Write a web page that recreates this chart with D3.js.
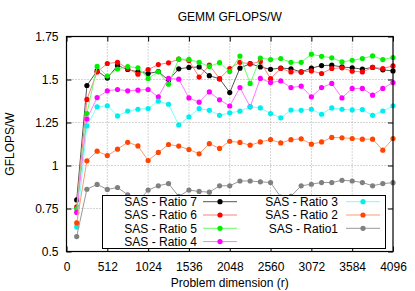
<!DOCTYPE html>
<html>
<head>
<meta charset="utf-8">
<script src="https://cdn.jsdelivr.net/npm/d3@7"></script>
<style>
  body { margin: 0; background: #fff; }
  text { font-family: "Liberation Sans", Arial, sans-serif; font-size: 12px; fill: #000; }
</style>
</head>
<body>
<div id="chart"></div>
<script>
// problem sizes (r)
const sizes = [128, 256, 384, 512, 640, 768, 896, 1024, 1152, 1280, 1408, 1536, 1664, 1792, 1920, 2048,
  2176, 2304, 2432, 2560, 2688, 2816, 2944, 3072, 3200, 3328, 3456, 3584, 3712, 3840, 3968, 4096];

const ratio7 = [0.80, 1.465, 1.55, 1.508, 1.581, 1.558, 1.544, 1.535, 1.546, 1.496, 1.562, 1.570, 1.573, 1.522, 1.504, 1.424,
  1.566, 1.592, 1.573, 1.559, 1.567, 1.562, 1.544, 1.566, 1.581, 1.583, 1.573, 1.568, 1.560, 1.570, 1.556, 1.550];
const ratio6 = [0.76, 1.384, 1.544, 1.593, 1.60, 1.564, 1.531, 1.558, 1.587, 1.597, 1.618, 1.61, 1.514, 1.583, 1.505, 1.564,
  1.60, 1.591, 1.604, 1.505, 1.564, 1.544, 1.544, 1.55, 1.535, 1.564, 1.568, 1.548, 1.544, 1.57, 1.564, 1.579];
const ratio5 = [0.748, 1.302, 1.576, 1.52, 1.561, 1.575, 1.568, 1.506, 1.545, 1.473, 1.619, 1.617, 1.60, 1.575, 1.598, 1.546,
  1.636, 1.477, 1.625, 1.616, 1.622, 1.60, 1.60, 1.647, 1.635, 1.626, 1.602, 1.612, 1.622, 1.637, 1.616, 1.628];
const ratio4 = [0.727, 1.27, 1.395, 1.434, 1.442, 1.434, 1.438, 1.442, 1.399, 1.506, 1.502, 1.393, 1.368, 1.428, 1.382, 1.346,
  1.453, 1.341, 1.506, 1.482, 1.492, 1.453, 1.461, 1.399, 1.453, 1.477, 1.393, 1.448, 1.448, 1.409, 1.448, 1.482];
const ratio3 = [0.642, 1.23, 1.341, 1.347, 1.288, 1.317, 1.327, 1.331, 1.374, 1.356, 1.236, 1.283, 1.331, 1.321, 1.292, 1.306,
  1.316, 1.341, 1.335, 1.302, 1.277, 1.322, 1.321, 1.327, 1.298, 1.335, 1.327, 1.323, 1.325, 1.292, 1.317, 1.347];
const ratio2 = [0.666, 1.027, 1.083, 1.058, 1.095, 1.135, 1.114, 1.029, 1.076, 1.122, 1.113, 1.093, 1.068, 1.127, 1.099, 1.141,
  1.134, 1.118, 1.137, 1.151, 1.131, 1.150, 1.155, 1.124, 1.137, 1.163, 1.161, 1.157, 1.153, 1.153, 1.089, 1.157];
const ratio1 = [0.587, 0.862, 0.89, 0.861, 0.872, 0.83, 0.79, 0.857, 0.882, 0.895, 0.82, 0.857, 0.849, 0.845, 0.882, 0.882,
  0.91, 0.91, 0.905, 0.901, 0.816, 0.821, 0.882, 0.891, 0.901, 0.901, 0.914, 0.91, 0.901, 0.882, 0.895, 0.90];

const labels = ['SAS - Ratio 7', 'SAS - Ratio 6', 'SAS - Ratio 5', 'SAS - Ratio 4', 'SAS - Ratio 3', 'SAS - Ratio 2', 'SAS - Ratio1'];
const xTicks = [0, 512, 1024, 1536, 2048, 2560, 3072, 3584, 4096];
const yTicks = [0.5, 0.75, 1, 1.25, 1.5, 1.75];

const series = [ratio7, ratio6, ratio5, ratio4, ratio3, ratio2, ratio1];
const pointColors = ['#000000', '#ff0000', '#00ee00', '#ff00ff', '#00eeee', '#ff4500', '#808080'];
const lineColors = ['#555555', '#ff8080', '#66ff66', '#ff77ff', '#77ffff', '#ff9a70', '#999999'];

const width = 415, height = 291;
const margin = { top: 36.5, right: 22, bottom: 39.5, left: 66.5 };

const svg = d3.select('#chart').append('svg')
  .attr('width', width)
  .attr('height', height);

const x = d3.scaleLinear().domain([0, 4096]).range([margin.left, width - margin.right]);
const y = d3.scaleLinear().domain([0.5, 1.75]).range([height - margin.bottom, margin.top]);

// grid
svg.append('g').selectAll('line').data(xTicks.slice(1, -1)).enter().append('line')
  .attr('x1', d => x(d)).attr('x2', d => x(d))
  .attr('y1', y(0.5)).attr('y2', y(1.75))
  .style('stroke', '#a8a8a8').style('stroke-dasharray', '1,2');
svg.append('g').selectAll('line').data(yTicks.slice(1, -1)).enter().append('line')
  .attr('x1', x(0)).attr('x2', x(4096))
  .attr('y1', d => y(d)).attr('y2', d => y(d))
  .style('stroke', '#a8a8a8').style('stroke-dasharray', '1,2');

// axes with inward ticks on all sides
svg.append('g')
  .attr('transform', `translate(0,${y(0.5)})`)
  .call(d3.axisBottom(x).tickValues(xTicks).tickSizeInner(-5).tickSizeOuter(0).tickPadding(11)
    .tickFormat(d3.format('d')));
svg.append('g')
  .attr('transform', `translate(${x(0)},0)`)
  .call(d3.axisLeft(y).tickValues(yTicks).tickSizeInner(-5).tickSizeOuter(0).tickPadding(8)
    .tickFormat(d3.format('')));
svg.append('g')
  .attr('transform', `translate(0,${y(1.75)})`)
  .call(d3.axisTop(x).tickValues(xTicks).tickSizeInner(-5).tickSizeOuter(0).tickFormat(''));
svg.append('g')
  .attr('transform', `translate(${x(4096)},0)`)
  .call(d3.axisRight(y).tickValues(yTicks).tickSizeInner(-5).tickSizeOuter(0).tickFormat(''));
svg.selectAll('.domain').remove();
svg.selectAll('.tick line').style('stroke', '#000');
svg.selectAll('.tick text').style('font-size', '12px')
  .style('font-family', '"Liberation Sans", Arial, sans-serif');

// series
const line = d3.line().x((d, i) => x(sizes[i])).y(d => y(d));
series.forEach((vals, s) => {
  const g = svg.append('g');
  g.append('path')
    .attr('d', line(vals))
    .style('fill', 'none')
    .style('stroke', lineColors[s])
    .style('stroke-width', 1);
  g.selectAll('circle').data(vals).enter().append('circle')
    .attr('cx', (d, i) => x(sizes[i]))
    .attr('cy', d => y(d))
    .attr('r', 2.6)
    .style('fill', pointColors[s]);
});

// frame
svg.append('rect')
  .attr('x', x(0)).attr('y', y(1.75))
  .attr('width', x(4096) - x(0)).attr('height', y(0.5) - y(1.75))
  .style('fill', 'none').style('stroke', '#000').style('stroke-width', 1.2);

// legend
const legend = svg.append('g');
legend.append('rect')
  .attr('x', 102.5).attr('y', 195.5).attr('width', 283).attr('height', 53)
  .style('fill', '#fff').style('stroke', '#000');
labels.forEach((lab, i) => {
  const col = i < 4 ? 0 : 1;
  const row = i < 4 ? i : i - 4;
  const ty = 201.7 + row * 13.3;
  const tx = col === 0 ? 197 : 338;
  const lx = col === 0 ? 203 : 346;
  legend.append('text')
    .attr('x', tx).attr('y', ty)
    .attr('dy', '0.35em')
    .attr('text-anchor', 'end')
    .text(lab);
  legend.append('line')
    .attr('x1', lx).attr('x2', lx + 34)
    .attr('y1', ty).attr('y2', ty)
    .style('stroke', lineColors[i]);
  legend.append('circle')
    .attr('cx', lx + 17).attr('cy', ty).attr('r', 2.6)
    .style('fill', pointColors[i]);
});

// titles
svg.append('text')
  .attr('x', (x(0) + x(4096)) / 2).attr('y', 21)
  .attr('text-anchor', 'middle')
  .text('GEMM GFLOPS/W');
svg.append('text')
  .attr('x', (x(0) + x(4096)) / 2).attr('y', 287)
  .attr('text-anchor', 'middle')
  .text('Problem dimension (r)');
svg.append('text')
  .attr('transform', `translate(14,${(y(0.5) + y(1.75)) / 2}) rotate(-90)`)
  .attr('text-anchor', 'middle')
  .text('GFLOPS/W');
</script>
</body>
</html>
